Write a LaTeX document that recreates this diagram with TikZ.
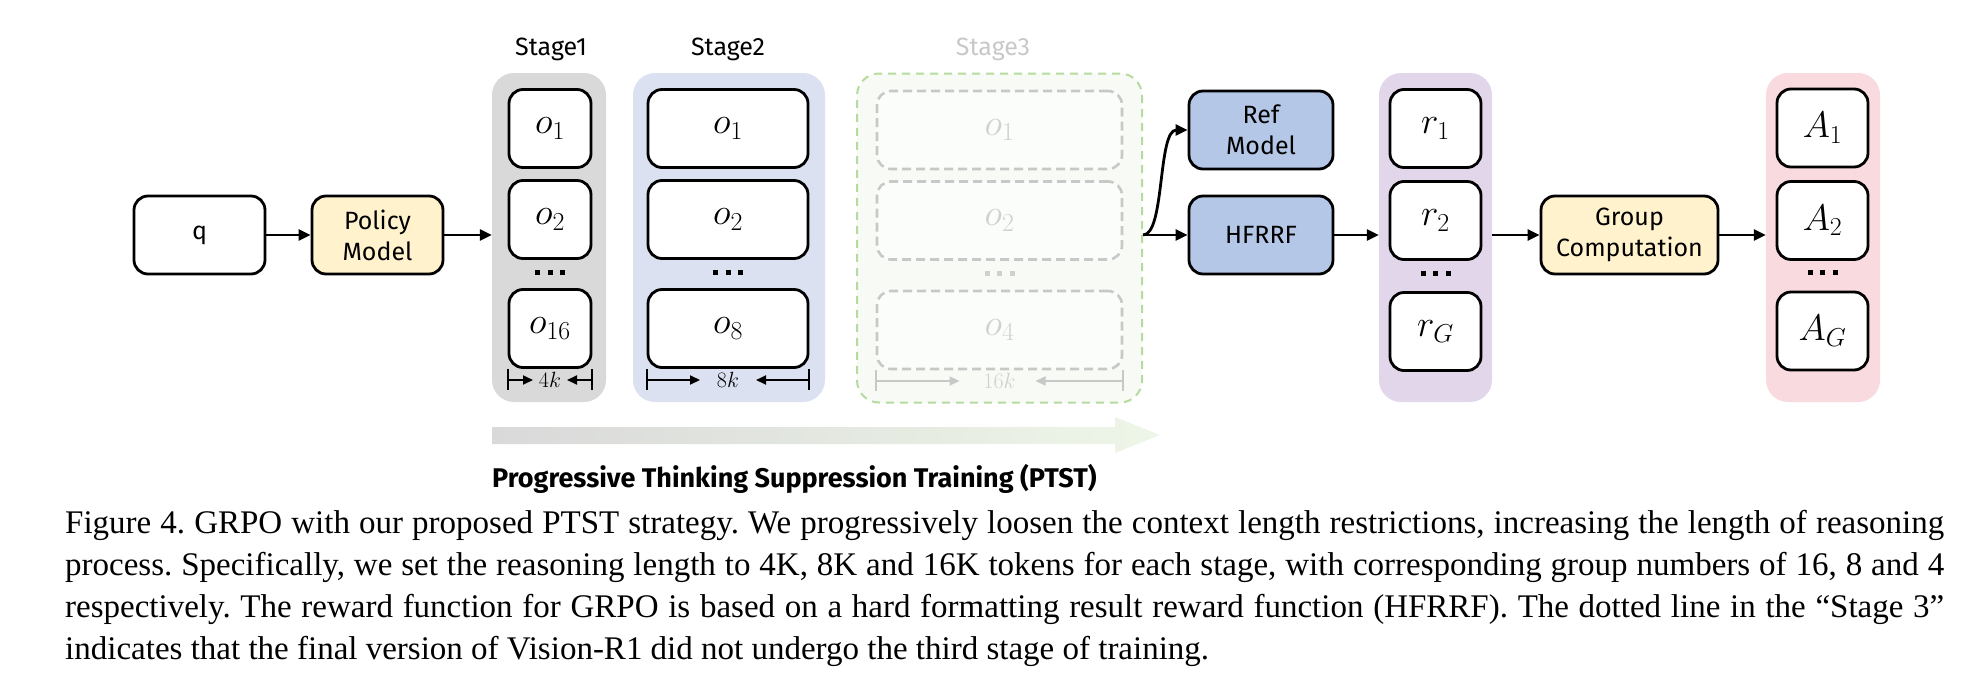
\RequirePackage{fix-cm}
\documentclass[tikz,border=0pt]{standalone}
\usepackage{fontspec}
\setmainfont{Liberation Serif}
\newfontfamily\dfont{Fira Sans}
\usetikzlibrary{arrows.meta}
\definecolor{pgray}{HTML}{D9D9D9}
\definecolor{plav}{HTML}{DCE1F2}
\definecolor{ppurple}{HTML}{E2D6EA}
\definecolor{ppink}{HTML}{F9DADF}
\definecolor{pyellow}{HTML}{FFF2CC}
\definecolor{pblue}{HTML}{B4C7E7}
\definecolor{sgreen}{HTML}{B5DB9E}
\definecolor{sgfill}{HTML}{F8FBF5}
\definecolor{dgray}{HTML}{C8C8C8}
\definecolor{tgray}{HTML}{D0D0D0}
\definecolor{agreen}{HTML}{EEF6E8}
\definecolor{ablue}{HTML}{DAE2F3}
\tikzset{
  box/.style={draw=black, line width=2.8pt, rounded corners=14pt, fill=white, inner sep=0pt},
  txtbox/.style={box, align=center, font=\dfont\fontsize{25}{31}\selectfont},
  mathbox/.style={box, font=\fontsize{37}{42}\selectfont},
  ghostbox/.style={draw=dgray, dash pattern=on 9pt off 5pt, line width=2.6pt, rounded corners=14pt, fill=white, fill opacity=0.5, text opacity=1, text=tgray, inner sep=0pt, font=\fontsize{37}{42}\selectfont},
  panel/.style={rounded corners=22pt, inner sep=0pt},
  arr/.style={line width=2.8pt, -{Triangle[length=12pt,width=11pt]}},
  dimarr/.style={line width=2pt, -{Triangle[length=10pt,width=9pt]}},
  dimbar/.style={line width=2pt},
  dimlbl/.style={inner sep=0pt, font=\fontsize{22}{26}\selectfont},
  stagelbl/.style={inner sep=0pt, anchor=base, font=\dfont\fontsize{25}{30}\selectfont},
  dotsn/.style={inner sep=0pt},
  capline/.style={anchor=base west, inner sep=0pt, font=\fontsize{33}{41.7}\selectfont}
}
\newcommand{\sqdots}{\rule{5pt}{5pt}\hspace{7.5pt}\rule{5pt}{5pt}\hspace{7.5pt}\rule{5pt}{5pt}}
\frenchspacing
\begin{document}
\begin{tikzpicture}[x=1pt, y=-1pt]
\useasboundingbox (0,0) rectangle (1974,683);
% panels
\node[panel, fill=pgray, minimum width=114pt, minimum height=329pt] (s1) at (549,237.5) {};
\node[panel, fill=plav, minimum width=192pt, minimum height=329pt] (s2) at (729,237.5) {};
\node[panel, fill=sgfill, draw=sgreen, line width=2pt, dash pattern=on 8pt off 6pt, minimum width=285pt, minimum height=329pt] (s3) at (999.5,238) {};
\node[panel, fill=ppurple, minimum width=113pt, minimum height=329pt] (rp) at (1435.5,237.5) {};
\node[panel, fill=ppink, minimum width=114pt, minimum height=329pt] (ap) at (1823,237.5) {};
% stage labels
\node[stagelbl] (l1) at (551,55) {Stage1};
\node[stagelbl] (l2) at (728,55) {Stage2};
\node[stagelbl, text=dgray] (l3) at (993,55) {Stage3};
% left boxes
\node[txtbox, minimum width=131pt, minimum height=78pt] (q) at (199.5,235) {q};
\node[txtbox, fill=pyellow, minimum width=131pt, minimum height=78pt] (pm) at (377.5,235) {Policy\\Model};
% stage1 boxes
\node[mathbox, minimum width=82pt, minimum height=78pt] (a1) at (550,128.5) {$o_1$};
\node[mathbox, minimum width=82pt, minimum height=78pt] (a2) at (550,219.5) {$o_2$};
\node[dotsn] (ad) at (550,272) {\sqdots};
\node[mathbox, minimum width=82pt, minimum height=78pt] (a3) at (550,328.5) {$o_{16}$};
% stage2 boxes
\node[mathbox, minimum width=160pt, minimum height=78pt] (b1) at (728,128.5) {$o_1$};
\node[mathbox, minimum width=160pt, minimum height=78pt] (b2) at (728,219.5) {$o_2$};
\node[dotsn] (bd) at (728,272) {\sqdots};
\node[mathbox, minimum width=160pt, minimum height=78pt] (b3) at (728,328.5) {$o_{8}$};
% stage3 boxes
\node[ghostbox, minimum width=245pt, minimum height=78pt] (c1) at (999.5,130) {$o_1$};
\node[ghostbox, minimum width=245pt, minimum height=78pt] (c2) at (999.5,220.5) {$o_2$};
\node[dotsn, text=tgray] (cd) at (999.5,273) {\sqdots};
\node[ghostbox, minimum width=245pt, minimum height=78pt] (c3) at (999.5,330) {$o_{4}$};
% dimension marks
\node[dimlbl] (d1) at (550,380) {$4k$};
\draw[dimbar] (a3.south west) -- ([yshift=-21pt]a3.south west);
\draw[dimbar] (a3.south east) -- ([yshift=-21pt]a3.south east);
\draw[dimarr] (a3.south west |- d1) -- ([xshift=-17pt]d1.center);
\draw[dimarr] (a3.south east |- d1) -- ([xshift=17pt]d1.center);
\node[dimlbl] (d2) at (728,380) {$8k$};
\draw[dimbar] (b3.south west) -- ([yshift=-21pt]b3.south west);
\draw[dimbar] (b3.south east) -- ([yshift=-21pt]b3.south east);
\draw[dimarr] (b3.south west |- d2) -- ([xshift=-28pt]d2.center);
\draw[dimarr] (b3.south east |- d2) -- ([xshift=28pt]d2.center);
\node[dimlbl, text=tgray] (d3) at (999.5,381) {$16k$};
\draw[dimbar, draw=dgray] (c3.south west) -- ([yshift=-21pt]c3.south west);
\draw[dimbar, draw=dgray] (c3.south east) -- ([yshift=-21pt]c3.south east);
\draw[dimarr, draw=dgray, fill=dgray] (c3.south west |- d3) -- ([xshift=-40pt]d3.center);
\draw[dimarr, draw=dgray, fill=dgray] (c3.south east |- d3) -- ([xshift=36pt]d3.center);
% right boxes
\node[txtbox, fill=pblue, minimum width=144pt, minimum height=78pt] (ref) at (1261,130) {Ref\\Model};
\node[txtbox, fill=pblue, minimum width=144pt, minimum height=78pt] (hf) at (1261,235) {HFRRF};
\node[mathbox, minimum width=91pt, minimum height=78pt] (r1) at (1435.5,128.5) {$r_1$};
\node[mathbox, minimum width=91pt, minimum height=78pt] (r2) at (1435.5,220.5) {$r_2$};
\node[dotsn] (rd) at (1435.5,273) {\sqdots};
\node[mathbox, minimum width=91pt, minimum height=78pt] (r3) at (1435.5,331.5) {$r_G$};
\node[txtbox, fill=pyellow, minimum width=177pt, minimum height=78pt] (gc) at (1629.5,235) {Group\\Computation};
\node[mathbox, minimum width=91pt, minimum height=78pt] (A1) at (1822.5,128) {$A_1$};
\node[mathbox, minimum width=91pt, minimum height=78pt] (A2) at (1822.5,220.5) {$A_2$};
\node[dotsn] (Ad) at (1822.5,272) {\sqdots};
\node[mathbox, minimum width=91pt, minimum height=78pt] (A3) at (1822.5,331) {$A_G$};
% connectors
\draw[arr] (q.east) -- (pm.west);
\draw[arr] (pm.east) -- (pm.east -| s1.west);
\coordinate (split) at (hf.west -| s3.east);
\draw[arr] (split) -- (hf.west);
\draw[arr] (split) .. controls ([xshift=22pt]split) and ([xshift=-30pt]ref.west) .. (ref.west);
\draw[arr] (hf.east) -- (hf.east -| rp.west);
\draw[arr] (gc.west -| rp.east) -- (gc.west);
\draw[arr] (gc.east) -- (gc.east -| ap.west);
% progress arrow
\shade[left color=pgray, middle color=ablue, right color=agreen]
  (492,427) -- (1115,427) -- (1115,417) -- (1160,435) -- (1115,453) -- (1115,444) -- (492,444) -- cycle;
\node[anchor=base west, inner sep=0pt, font=\dfont\bfseries\fontsize{27}{32}\selectfont] (pt) at (492,487) {Progressive Thinking Suppression Training (PTST)};
% caption
\node[capline] (cap1) at (65,533) {\makebox[1879pt][s]{Figure 4. GRPO with our proposed PTST strategy. We progressively loosen the context length restrictions, increasing the length of reasoning}};
\node[capline] (cap2) at (65,575) {\makebox[1879pt][s]{process. Specifically, we set the reasoning length to 4K, 8K and 16K tokens for each stage, with corresponding group numbers of 16, 8 and 4}};
\node[capline] (cap3) at (65,617) {\makebox[1879pt][s]{respectively. The reward function for GRPO is based on a hard formatting result reward function (HFRRF). The dotted line in the “Stage 3”}};
\node[capline] (cap4) at (65,659) {indicates that the final version of Vision-R1 did not undergo the third stage of training.};
\end{tikzpicture}
\end{document}
